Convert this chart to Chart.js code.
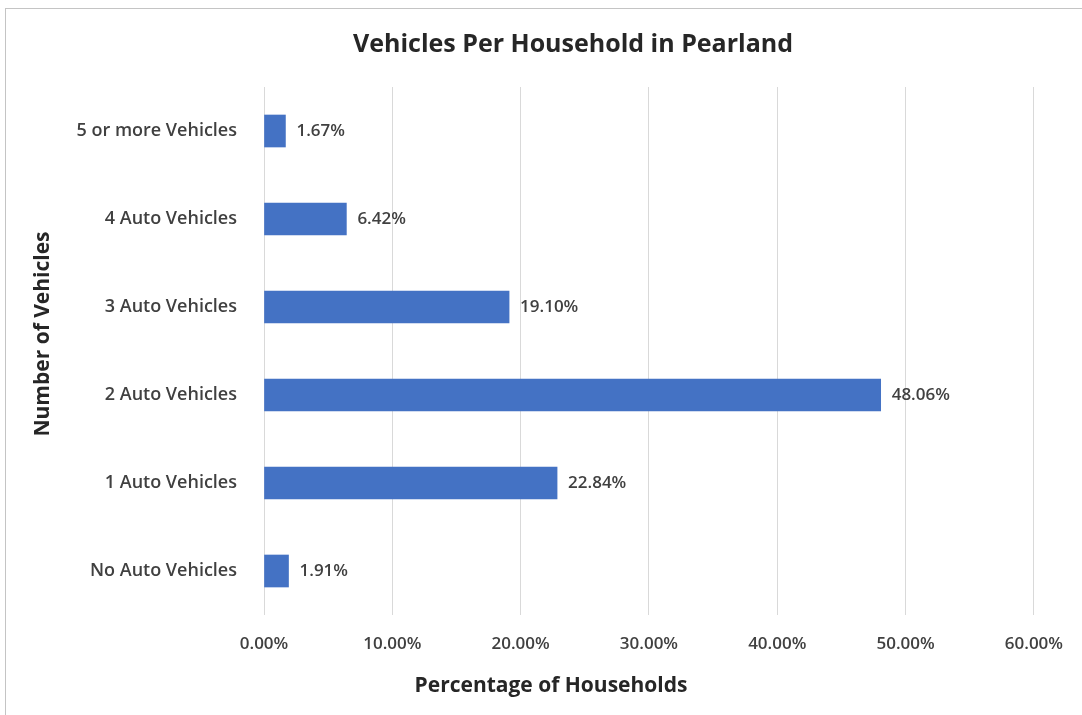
<!DOCTYPE html>
<html lang="en">
<head>
  <meta charset="UTF-8">
  <title>Vehicles Per Household in Pearland</title>
  <script src="https://cdn.jsdelivr.net/npm/chart.js"></script>
  <style>
    body {
      margin: 0;
      background: #fff;
      overflow: hidden;
      width: 1082px;
      height: 715px;
      position: relative;
    }
    .frame {
      position: absolute;
      left: 5px;
      top: 8px;
      width: 1100px;
      height: 760px;
      border: 1px solid #c4c4c4;
    }
    #grafico {
      position: absolute;
      left: 0;
      top: 0;
    }
  </style>
</head>
<body>
  <div class="frame"></div>
  <canvas id="grafico" width="1082" height="715"></canvas>

  <script>
    const categorias = ['5 or more Vehicles', '4 Auto Vehicles', '3 Auto Vehicles', '2 Auto Vehicles', '1 Auto Vehicles', 'No Auto Vehicles'];
    const percentuais = [1.67, 6.42, 19.10, 48.06, 22.84, 1.91];
    const titulo = 'Vehicles Per Household in Pearland';
    const tituloX = 'Percentage of Households';
    const tituloY = 'Number of Vehicles';

    const fonte = '"Open Sans", Lato, sans-serif';
    const corTexto = '#404040';

    // rótulos de valor ao lado de cada barra + títulos
    const textos = {
      id: 'textos',
      afterDatasetsDraw(chart) {
        const ctx = chart.ctx;
        const meta = chart.getDatasetMeta(0);
        ctx.save();
        ctx.fillStyle = corTexto;
        ctx.font = '600 17px ' + fonte;
        ctx.textAlign = 'left';
        ctx.textBaseline = 'middle';
        meta.data.forEach((bar, i) => {
          ctx.fillText(percentuais[i].toFixed(2) + '%', bar.x + 11, bar.y);
        });

        ctx.fillStyle = '#262626';
        ctx.textAlign = 'center';
        ctx.font = 'bold 25px ' + fonte;
        ctx.fillText(titulo, 573, 45);

        ctx.font = 'bold 21px ' + fonte;
        ctx.fillText(tituloX, 551, 686);

        ctx.translate(43, 334);
        ctx.rotate(-Math.PI / 2);
        ctx.fillText(tituloY, 0, 0);
        ctx.restore();
      }
    };

    new Chart(grafico, {
      type: 'bar',
      data: {
        labels: categorias,
        datasets: [{
          data: percentuais,
          backgroundColor: '#4472c4',
          barThickness: 32
        }]
      },
      options: {
        indexAxis: 'y',
        responsive: false,
        animation: false,
        layout: { padding: { top: 87, right: 47, bottom: 0, left: 0 } },
        plugins: {
          legend: { display: false },
          tooltip: { enabled: false }
        },
        scales: {
          x: {
            min: 0,
            max: 60,
            ticks: {
              stepSize: 10,
              padding: 19,
              color: corTexto,
              font: { family: fonte, size: 17, weight: '600' },
              callback: v => v.toFixed(2) + '%'
            },
            grid: { color: '#d9d9d9', drawTicks: false },
            border: { display: false },
            afterFit(scale) { scale.height = 100; }
          },
          y: {
            ticks: {
              padding: 19,
              color: corTexto,
              font: { family: fonte, size: 18, weight: '600' }
            },
            grid: { display: false },
            border: { display: false },
            afterFit(scale) { scale.width = 264; }
          }
        }
      },
      plugins: [textos]
    });
  </script>
</body>
</html>
